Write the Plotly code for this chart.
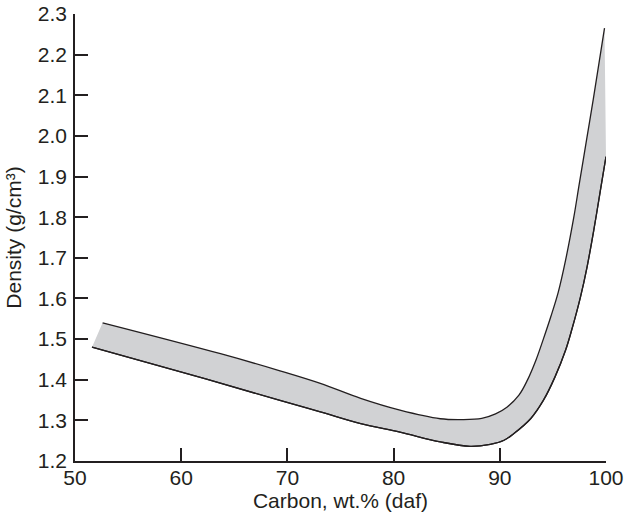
import plotly.graph_objects as go

# Density band of coal vs. carbon content (dry, ash-free basis)
upper_carbon = [52.6, 63.7, 69.3, 73.1, 76.9, 80.6, 84.4, 86.5, 88.3, 89.6, 90.7,
                91.8, 92.6, 93.4, 94.1, 94.8, 95.5, 96.2, 96.97, 97.44, 98.2, 98.8, 99.86]
upper_density = [1.540, 1.464, 1.422, 1.391, 1.354, 1.325, 1.304, 1.302, 1.305, 1.316, 1.333,
                 1.362, 1.399, 1.448, 1.500, 1.555, 1.615, 1.695, 1.800, 1.875, 1.995, 2.090, 2.265]

lower_carbon = [51.6, 61.8, 69.3, 73.1, 76.9, 80.6, 84.4, 87.2, 89.1, 90.4,
                91.3, 92.9, 94.1, 95.2, 96.2, 96.81, 97.6, 98.22, 98.85, 99.48, 100.0]
lower_density = [1.480, 1.406, 1.349, 1.321, 1.292, 1.271, 1.247, 1.236, 1.241, 1.251,
                 1.267, 1.304, 1.349, 1.407, 1.473, 1.526, 1.604, 1.678, 1.768, 1.867, 1.949]

x_ticks = [50, 60, 70, 80, 90, 100]
y_ticks = [1.2, 1.3, 1.4, 1.5, 1.6, 1.7, 1.8, 1.9, 2.0, 2.1, 2.2, 2.3]

ink = "#231f20"
band = "#d1d2d4"
font = dict(family="Liberation Sans, Arial, sans-serif", size=21, color=ink)
edge = dict(color=ink, width=1.3, shape="spline", smoothing=1.0)

fig = go.Figure()
fig.add_trace(go.Scatter(
    x=lower_carbon, y=lower_density, mode="lines", line=edge,
    hoverinfo="skip", showlegend=False,
))
fig.add_trace(go.Scatter(
    x=upper_carbon, y=upper_density, mode="lines", line=edge,
    fill="tonexty", fillcolor=band,
    hoverinfo="skip", showlegend=False,
))
# re-stroke the lower edge above the fill
fig.add_trace(go.Scatter(
    x=lower_carbon, y=lower_density, mode="lines", line=edge,
    hoverinfo="skip", showlegend=False,
))

axis_common = dict(
    showgrid=False, zeroline=False, showline=True, linecolor=ink, linewidth=1.5,
    ticks="inside", ticklen=13, tickwidth=1.5, tickcolor=ink,
    tickfont=font, mirror=False, automargin=False,
)

fig.update_layout(
    width=626, height=518,
    margin=dict(l=75, r=20, t=14, b=57),
    paper_bgcolor="white", plot_bgcolor="white",
    font=font,
    xaxis=dict(
        range=[50, 100], tickvals=x_ticks, ticklabelstandoff=-3,
        title=dict(text="Carbon, wt.% (daf)", font=font, standoff=1),
        **axis_common,
    ),
    yaxis=dict(
        range=[1.2, 2.3], tickvals=y_ticks, tickformat=".1f", ticklabelstandoff=2,
        title=dict(text="Density (g/cm³)", font=font, standoff=10),
        **axis_common,
    ),
)

fig.write_html("out.html")
